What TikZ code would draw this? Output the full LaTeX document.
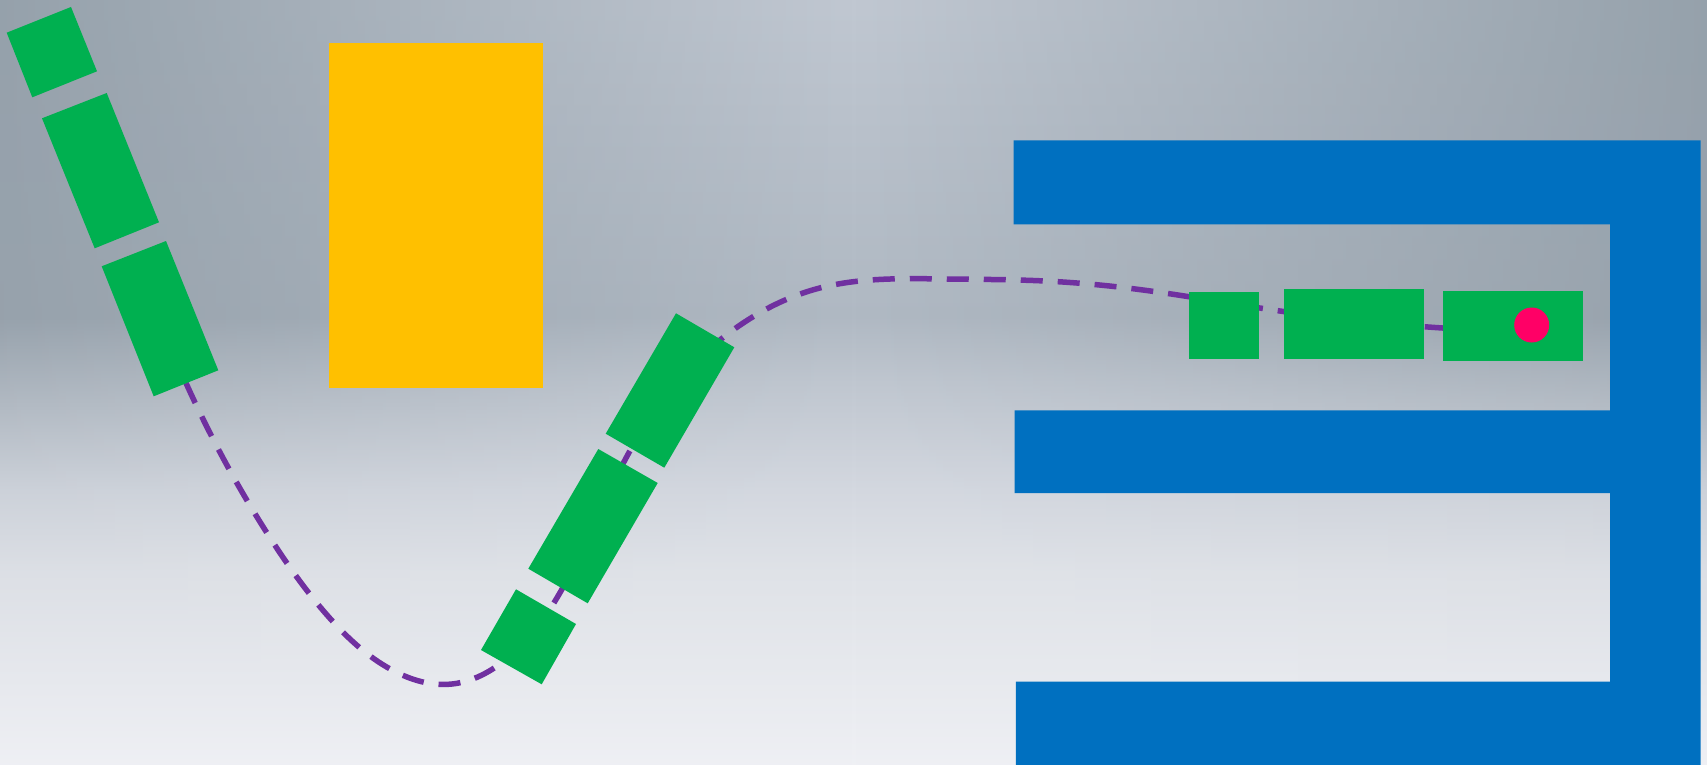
\documentclass[tikz,border=0pt]{standalone}
\usetikzlibrary{fadings,hobby}
\definecolor{linkgreen}{HTML}{00B050}
\definecolor{blockgold}{HTML}{FFC000}
\definecolor{wallblue}{HTML}{0070C0}
\definecolor{routepurple}{HTML}{7030A0}
\definecolor{goalred}{HTML}{FF0066}
\pgfdeclareverticalshading{backdrop}{100bp}{rgb(0bp)=(0.945,0.949,0.965); rgb(25bp)=(0.945,0.949,0.965); rgb(38.5bp)=(0.878,0.890,0.910); rgb(43.5bp)=(0.831,0.847,0.878); rgb(50bp)=(0.753,0.780,0.816); rgb(54bp)=(0.690,0.725,0.765); rgb(65bp)=(0.725,0.757,0.796); rgb(75bp)=(0.761,0.788,0.827); rgb(100bp)=(0.761,0.788,0.827)}
\pgfdeclareverticalshading{backdropedge}{100bp}{rgb(0bp)=(0.945,0.949,0.965); rgb(25bp)=(0.945,0.949,0.965); rgb(38.5bp)=(0.863,0.875,0.898); rgb(43.5bp)=(0.800,0.820,0.851); rgb(54bp)=(0.588,0.631,0.671); rgb(75bp)=(0.580,0.627,0.667); rgb(100bp)=(0.580,0.627,0.667)}
\tikzfading[name=sides, left color=transparent!0, right color=transparent!0, middle color=transparent!100]

\begin{document}
\begin{tikzpicture}[x=1pt,y=-1pt,use Hobby shortcut,
  link/.style={fill=linkgreen},
  route/.style={draw=routepurple,line width=5.5pt,dash pattern=on 22pt off 15pt}]
\useasboundingbox (0,0) rectangle (1707,765);
\shade[shading=backdrop] (-30,-30) rectangle (1737,795);
\shade[shading=backdropedge,path fading=sides] (-30,-30) rectangle (1737,795);
\draw[route] (186,383) .. (267,533) .. (327,615) .. (392,670) .. (452,684) .. (500,664) .. (529,637) .. (593,526) .. (670,390) .. (729,333) .. (816,289) .. (947,279) .. (1045,281) .. (1143,290) .. (1273,310) .. (1428,327) .. (1500,331);
\fill[link] (6.7,32.7)--(71,7)--(97,71.3)--(32.3,97.3)--cycle;
\fill[link] (42,118.3)--(106.7,93)--(159,222.3)--(94.7,248.3)--cycle;
\fill[link] (101.7,266.3)--(166,241)--(218.3,370.3)--(153.7,396.3)--cycle;
\fill[link] (676,313.3)--(734.3,347.3)--(664.3,467.7)--(605.7,433.7)--cycle;
\fill[link] (598.3,449)--(657.7,483)--(587.7,603.3)--(528.3,568.7)--cycle;
\fill[link] (516,589.3)--(576,624)--(541.7,684.3)--(481,650)--cycle;
\fill[link] (1189,292) rectangle (1259,359);
\fill[link] (1283.7,289.3) rectangle (1423.7,359.3);
\fill[link] (1443,291) rectangle (1583,360.7);
\fill[blockgold] (328.8,43.5) rectangle (543.3,387.6);
\fill[wallblue] (1013.6,140.4)--(1700.5,140.4)--(1700.5,765)--(1015.8,765)--(1015.8,681.5)--(1610,681.5)--(1610,493.2)--(1014.7,493.2)--(1014.7,410.4)--(1610,410.4)--(1610,224.3)--(1013.6,224.3)--cycle;
\fill[goalred] (1531.7,325) circle[radius=17.5];
\end{tikzpicture}
\end{document}
